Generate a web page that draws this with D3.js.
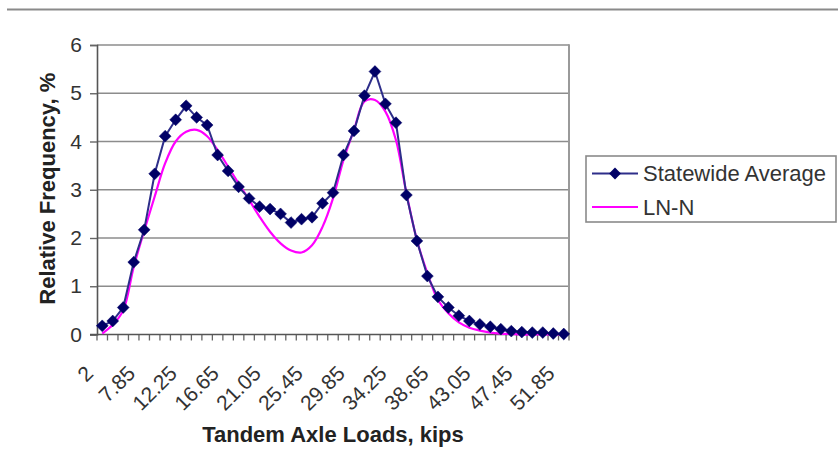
<!DOCTYPE html>
<html>
<head>
<meta charset="utf-8">
<script src="https://cdn.jsdelivr.net/npm/d3@7"></script>
<style>
  html, body { margin: 0; padding: 0; background: #fff; }
  svg { display: block; font-family: Arial, "Liberation Sans", sans-serif; }
</style>
</head>
<body>
<svg id="chart" width="838" height="467"></svg>
<script>
// ---- data ----
const categories = ["2","4.55","5.65","6.75","7.85","8.95","10.05","11.15","12.25","13.35","14.45","15.55",
  "16.65","17.75","18.85","19.95","21.05","22.15","23.25","24.35","25.45","26.55","27.65","28.75",
  "29.85","30.95","32.05","33.15","34.25","35.35","36.45","37.55","38.65","39.75","40.85","41.95",
  "43.05","44.15","45.25","46.35","47.45","48.55","49.65","50.75","51.85"];
const statewideAverage = [0.18,0.28,0.56,1.50,2.17,3.33,4.11,4.45,4.74,4.50,4.34,3.72,3.39,3.06,2.82,
  2.65,2.60,2.50,2.32,2.39,2.43,2.72,2.94,3.72,4.22,4.95,5.45,4.78,4.39,2.89,1.94,1.21,0.78,0.56,
  0.39,0.28,0.21,0.16,0.11,0.07,0.05,0.04,0.04,0.02,0.01];
const lnN = [0.02,0.20,0.50,1.40,2.15,2.86,3.55,4.00,4.20,4.24,4.11,3.82,3.48,3.13,2.79,2.44,2.13,1.89,
  1.74,1.70,1.85,2.23,2.82,3.62,4.24,4.83,4.86,4.62,4.03,2.93,1.96,1.27,0.72,0.44,0.25,0.14,0.08,0.04,
  0.02,0.01,0,0,0,0,0];
const yTicks = [0,1,2,3,4,5,6];
const seriesNames = ["Statewide Average","LN-N"];

// ---- layout ----
const svg = d3.select("#chart");
const plot = {left: 97, right: 569, top: 45, bottom: 334.5};
const x = d3.scaleBand().domain(categories).range([plot.left, plot.right]).paddingInner(0).paddingOuter(0);
const y = d3.scaleLinear().domain([0, 6]).range([plot.bottom, plot.top]);
const cx = d => x(d) + x.bandwidth() / 2;
const FONT = "Arial, 'Liberation Sans', sans-serif";

// top separator line
svg.append("line").attr("x1", 7).attr("x2", 838).attr("y1", 9.5).attr("y2", 9.5)
  .attr("stroke", "#8a8a8a").attr("stroke-width", 2);

// gridlines
svg.append("g").selectAll("line").data(yTicks.filter(t => t > 0)).join("line")
  .attr("x1", plot.left).attr("x2", plot.right)
  .attr("y1", d => y(d)).attr("y2", d => y(d))
  .attr("stroke", "#8c8c8c").attr("stroke-width", 1.6);

// plot border right
svg.append("line").attr("x1", plot.right).attr("x2", plot.right).attr("y1", plot.top - 0.8).attr("y2", plot.bottom)
  .attr("stroke", "#9a9a9a").attr("stroke-width", 2);

// y axis
const yAxis = d3.axisLeft(y).tickValues(yTicks).tickFormat(d3.format("d")).tickSize(7).tickPadding(8);
const gy = svg.append("g").attr("transform", `translate(${plot.left},0)`).call(yAxis);
gy.attr("font-size", null).attr("font-family", null);
gy.select(".domain").attr("stroke", "#555").attr("stroke-width", 1.6);
gy.selectAll(".tick line").attr("stroke", "#666").attr("stroke-width", 1.4);
gy.selectAll(".tick text").style("font-size", "21px").attr("fill", "#333").style("font-family", FONT);

// x axis: ticks at band boundaries
const boundaries = categories.map(c => x(c)).concat([plot.right]);
svg.append("g").selectAll("line").data(boundaries).join("line")
  .attr("x1", d => d).attr("x2", d => d).attr("y1", plot.bottom).attr("y2", plot.bottom + 6)
  .attr("stroke", "#666").attr("stroke-width", 1.3);
svg.append("line").attr("x1", plot.left - 7).attr("x2", plot.right).attr("y1", plot.bottom).attr("y2", plot.bottom)
  .attr("stroke", "#555").attr("stroke-width", 1.6);

// x labels (every 4th category)
svg.append("g").selectAll("text").data(categories.filter((c, i) => i % 4 === 0)).join("text")
  .attr("transform", d => `translate(${cx(d) - 13},${plot.bottom + 35}) rotate(-45)`)
  .attr("text-anchor", "end").attr("dy", "0.35em")
  .style("font-size", "21px").attr("fill", "#333").text(d => d);

// axis titles
svg.append("text").attr("x", (plot.left + plot.right) / 2).attr("y", 442)
  .attr("text-anchor", "middle").style("font-size", "22px").attr("font-weight", "bold").attr("fill", "#222")
  .text("Tandem Axle Loads, kips");
svg.append("text").attr("transform", `translate(55,${(plot.top + plot.bottom) / 2 - 1}) rotate(-90)`)
  .attr("text-anchor", "middle").style("font-size", "22px").attr("font-weight", "bold").attr("fill", "#222")
  .text("Relative Frequency, %");

// LN-N line
const pinkLine = d3.line().x((d, i) => cx(categories[i])).y(d => y(d)).curve(d3.curveCatmullRom.alpha(0.5));
svg.append("path").datum(lnN).attr("d", pinkLine).attr("fill", "none")
  .attr("stroke", "#ff00ff").attr("stroke-width", 2.2);

// Statewide line + markers
const blueLine = d3.line().x((d, i) => cx(categories[i])).y(d => y(d));
svg.append("path").datum(statewideAverage).attr("d", blueLine).attr("fill", "none")
  .attr("stroke", "#2e2e8a").attr("stroke-width", 2);
svg.append("g").selectAll("path").data(statewideAverage).join("path")
  .attr("d", d3.symbol().type(d3.symbolSquare).size(70))
  .attr("transform", (d, i) => `translate(${cx(categories[i])},${y(d)}) rotate(45)`)
  .attr("fill", "#000066").attr("stroke", "#000066").attr("stroke-width", 0.5);

// legend
const lg = svg.append("g");
lg.append("rect").attr("x", 586).attr("y", 156).attr("width", 250).attr("height", 66)
  .attr("fill", "#fff").attr("stroke", "#8a8a8a").attr("stroke-width", 1.6);
const legendY = [173.5, 207];
lg.append("line").attr("x1", 592).attr("x2", 638).attr("y1", legendY[0]).attr("y2", legendY[0])
  .attr("stroke", "#2e2e8a").attr("stroke-width", 2);
lg.append("path").attr("d", d3.symbol().type(d3.symbolSquare).size(70))
  .attr("transform", `translate(615,${legendY[0]}) rotate(45)`).attr("fill", "#000066");
lg.append("line").attr("x1", 592).attr("x2", 638).attr("y1", legendY[1]).attr("y2", legendY[1])
  .attr("stroke", "#ff00ff").attr("stroke-width", 2.2);
lg.selectAll("text.lt").data(seriesNames).join("text").attr("class", "lt")
  .attr("x", 643).attr("y", (d, i) => legendY[i]).attr("dy", "0.36em")
  .style("font-size", "22px").attr("fill", "#333").text(d => d);
</script>
</body>
</html>
